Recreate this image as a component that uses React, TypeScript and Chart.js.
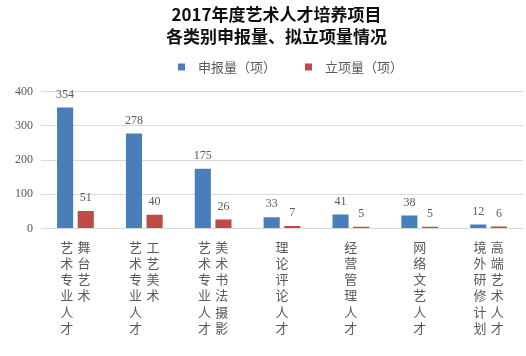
import React, { useEffect, useRef } from "react";
import { Chart, registerables } from "chart.js";

Chart.register(...registerables);

const titleLines = ["2017年度艺术人才培养项目", "各类别申报量、拟立项量情况"];
// each category: columns of vertical text, first column is the rightmost
const categoryColumns: string[][] = [
  ["舞台艺术", "艺术专业人才"],
  ["工艺美术", "艺术专业人才"],
  ["美术书法摄影", "艺术专业人才"],
  ["理论评论人才"],
  ["经营管理人才"],
  ["网络文艺人才"],
  ["高端艺术人才", "境外研修计划"],
];
const seriesNames = ["申报量（项）", "立项量（项）"];
const appliedCounts = [354, 278, 175, 33, 41, 38, 12];
const approvedCounts = [51, 40, 26, 7, 5, 5, 6];
const yTickValues = [0, 100, 200, 300, 400];

const seriesColors = ["#4A7EBB", "#BE4B48"];
const textGray = "#595959";
const cjkFont = "'Noto Sans CJK SC', 'Noto Sans', sans-serif";
const numFont = "'Liberation Serif', 'DejaVu Serif', serif";

function buildVerticalLines(cols: string[]): string[] {
  const ordered = [...cols].reverse(); // left-to-right drawing order
  const maxLen = Math.max(...cols.map((c) => c.length));
  const lines: string[] = [];
  for (let i = 0; i < maxLen; i++) {
    if (ordered.length === 1) {
      lines.push(ordered[0][i] ?? "\u3000");
    } else {
      lines.push(ordered.map((c) => c[i] ?? "\u3000").join("\u2004"));
    }
  }
  return lines;
}

const valueLabelPlugin = {
  id: "valueLabels",
  afterDatasetsDraw(chart: any) {
    const ctx = chart.ctx;
    ctx.save();
    ctx.font = `12px ${numFont}`;
    ctx.fillStyle = textGray;
    ctx.textAlign = "center";
    ctx.textBaseline = "middle";
    chart.data.datasets.forEach((ds: any, i: number) => {
      const meta = chart.getDatasetMeta(i);
      meta.data.forEach((el: any, j: number) => {
        ctx.fillText(String(ds.data[j]), el.x, el.y - 13);
      });
    });
    ctx.restore();
  },
};

const legendPlugin = {
  id: "customLegend",
  afterDraw(chart: any) {
    const ctx = chart.ctx;
    ctx.save();
    ctx.font = `13px ${cjkFont}`;
    ctx.textBaseline = "middle";
    ctx.textAlign = "left";
    const box = 7;
    const textGap = 13;
    const itemGap = 29;
    const items = chart.data.datasets.map((ds: any) => ({
      text: ds.label as string,
      color: ds.backgroundColor as string,
      w: box + textGap + ctx.measureText(ds.label).width,
    }));
    const total =
      items.reduce((s: number, it: any) => s + it.w, 0) + itemGap * (items.length - 1);
    const centerX = 290.5;
    const y = 67;
    let x = centerX - total / 2;
    items.forEach((it: any) => {
      ctx.fillStyle = it.color;
      ctx.fillRect(x, y - box / 2, box, box);
      ctx.fillStyle = textGray;
      ctx.fillText(it.text, x + box + textGap, y + 0.5);
      x += it.w + itemGap;
    });
    ctx.restore();
  },
};

export default function App() {
  const canvasRef = useRef<HTMLCanvasElement | null>(null);

  useEffect(() => {
    document.body.style.margin = "0";
    const canvas = canvasRef.current;
    if (!canvas) return;
    const chart = new Chart(canvas, {
      type: "bar",
      data: {
        labels: categoryColumns.map(buildVerticalLines) as any,
        datasets: [
          {
            label: seriesNames[0],
            data: appliedCounts,
            backgroundColor: seriesColors[0],
            categoryPercentage: 0.6,
            barPercentage: 0.78,
          },
          {
            label: seriesNames[1],
            data: approvedCounts,
            backgroundColor: seriesColors[1],
            categoryPercentage: 0.6,
            barPercentage: 0.78,
          },
        ],
      },
      options: {
        responsive: false,
        animation: false,
        layout: { padding: { left: 30, right: 3, top: 0, bottom: 10 } },
        plugins: {
          legend: { display: false },
          tooltip: { enabled: false },
          title: {
            display: true,
            text: titleLines,
            color: "#111111",
            font: { family: cjkFont, size: 17, weight: "bold", lineHeight: 22 / 17 },
            padding: { top: 4, bottom: 43.7 },
          },
        },
        scales: {
          x: {
            grid: { display: false, drawTicks: false },
            border: { display: false },
            ticks: {
              color: textGray,
              font: { family: cjkFont, size: 13, lineHeight: 1.25 },
              maxRotation: 0,
              minRotation: 0,
              autoSkip: false,
              padding: 10,
            },
          },
          y: {
            min: yTickValues[0],
            max: yTickValues[yTickValues.length - 1],
            afterFit: (scale: any) => {
              scale.width = 11;
            },
            afterBuildTicks: (scale: any) => {
              scale.ticks = yTickValues.map((v) => ({ value: v }));
            },
            grid: { color: "#D9D9D9", drawTicks: false, lineWidth: 1 },
            border: { display: false },
            ticks: {
              color: textGray,
              font: { family: numFont, size: 12 },
              mirror: true,
              crossAlign: "far",
              padding: -26,
            },
          },
        },
      },
      plugins: [valueLabelPlugin, legendPlugin],
    });
    return () => chart.destroy();
  }, []);

  return (
    <div style={{ width: 526, height: 356 }}>
      <canvas ref={canvasRef} width={526} height={356} />
    </div>
  );
}
